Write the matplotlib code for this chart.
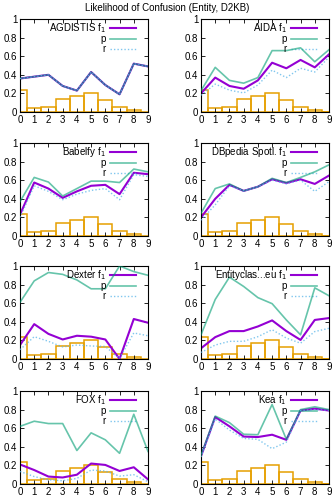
import numpy as np
import matplotlib.pyplot as plt

plt.rcParams['font.family'] = ['Liberation Sans', 'DejaVu Sans']

x = np.arange(10)
hist = [0.24, 0.04, 0.05, 0.14, 0.17, 0.20, 0.13, 0.05, 0.02, 0.005]

names = ['AGDISTIS', 'AIDA', 'Babelfy', 'DBpedia Spotl.',
         'Dexter', 'Entityclas...eu', 'FOX', 'Kea']

agdistis = [0.36, 0.38, 0.40, 0.28, 0.23, 0.43, 0.29, 0.19, 0.52, 0.49]

f1 = [
    agdistis,
    [0.20, 0.37, 0.28, 0.25, 0.34, 0.53, 0.47, 0.56, 0.48, 0.62],
    [0.23, 0.575, 0.51, 0.41, 0.48, 0.54, 0.55, 0.45, 0.68, 0.665],
    [0.20, 0.40, 0.55, 0.485, 0.53, 0.61, 0.57, 0.61, 0.56, 0.65],
    [0.15, 0.375, 0.27, 0.21, 0.25, 0.24, 0.21, 0.0, 0.43, 0.39],
    [0.115, 0.235, 0.30, 0.30, 0.35, 0.415, 0.30, 0.205, 0.42, 0.44],
    [0.21, 0.15, 0.08, 0.07, 0.10, 0.22, 0.205, 0.14, 0.18, 0.05],
    [0.30, 0.72, 0.62, 0.51, 0.505, 0.53, 0.475, 0.79, 0.81, 0.79],
]
prec = [
    agdistis,
    [0.23, 0.48, 0.34, 0.31, 0.37, 0.66, 0.66, 0.69, 0.54, 0.67],
    [0.37, 0.63, 0.58, 0.43, 0.51, 0.59, 0.59, 0.575, 0.72, 0.69],
    [0.245, 0.51, 0.56, 0.485, 0.53, 0.62, 0.575, 0.63, 0.69, 0.765],
    [0.61, 0.84, 0.93, 0.91, 0.85, 0.755, 0.755, 1.0, 0.94, 0.90],
    [0.26, 0.64, 0.88, 0.78, 0.66, 0.595, 0.42, 0.26, 0.765, 0.68],
    [0.62, 0.675, 0.65, 0.65, 0.36, 0.55, 0.475, 0.33, 0.75, 0.35],
    [0.31, 0.73, 0.66, 0.535, 0.53, 0.855, 0.48, 0.80, 0.83, 0.80],
]
rec = [
    agdistis,
    [0.18, 0.30, 0.235, 0.205, 0.29, 0.45, 0.37, 0.47, 0.43, 0.59],
    [0.20, 0.54, 0.48, 0.39, 0.45, 0.49, 0.51, 0.39, 0.66, 0.64],
    [0.17, 0.335, 0.54, 0.485, 0.53, 0.60, 0.56, 0.60, 0.48, 0.585],
    [0.10, 0.24, 0.19, 0.13, 0.15, 0.14, 0.135, 0.005, 0.28, 0.25],
    [0.07, 0.15, 0.19, 0.19, 0.24, 0.315, 0.225, 0.17, 0.295, 0.33],
    [0.135, 0.08, 0.045, 0.035, 0.06, 0.15, 0.14, 0.085, 0.10, 0.025],
    [0.29, 0.70, 0.58, 0.49, 0.48, 0.38, 0.45, 0.79, 0.80, 0.79],
]

purple = '#9400d3'
green = '#009e73'
blue = '#56b4e9'
orange = '#e69f00'

f1_style = dict(color=purple, lw=1.5)
p_style = dict(color=green, lw=1.2, alpha=0.6)
r_style = dict(color=blue, lw=1.0, ls=(0, (1, 1.5)), alpha=0.75)

fig = plt.figure(figsize=(3.34, 5.0), dpi=100)
fig.text(0.5, 0.984, 'Likelihood of Confusion (Entity, D2KB)',
         ha='center', va='center', fontsize=7)

lefts = [20 / 334, 201 / 334]
bottoms = [1 - 112 / 500, 1 - 236 / 500, 1 - 359 / 500, 1 - 484 / 500]
w = 128 / 334
h = 93 / 500

for i, name in enumerate(names):
    ax = fig.add_axes([lefts[i % 2], bottoms[i // 2], w, h])
    ax.bar(x, hist, width=1.0, fill=False, edgecolor=orange, linewidth=1.1,
           zorder=1)
    ax.plot(x, f1[i], zorder=2, **f1_style)
    ax.plot(x, prec[i], zorder=3, **p_style)
    ax.plot(x, rec[i], zorder=4, **r_style)
    ax.set_xlim(0, 9)
    ax.set_ylim(0, 1)
    ax.set_xticks(x)
    ax.set_yticks([0, 0.2, 0.4, 0.6, 0.8, 1])
    ax.set_yticklabels(['0', '0.2', '0.4', '0.6', '0.8', '1'])
    ax.tick_params(direction='in', length=3, width=0.6, labelsize=7,
                   top=True, right=True, pad=2)
    for s in ax.spines.values():
        s.set_linewidth(0.8)

    # gnuplot style key: text right aligned, sample line on the right
    ys = [0.905, 0.785, 0.675]
    labels = [name + r' f$_1$', 'p', 'r']
    for lab, yy, st in zip(labels, ys, [f1_style, p_style, r_style]):
        ax.text(0.67, yy, lab, transform=ax.transAxes, ha='right',
                va='center', fontsize=7, zorder=5)
        ax.plot([0.70, 0.91], [yy, yy], transform=ax.transAxes, **st)

fig.savefig('out.png', dpi=100)
